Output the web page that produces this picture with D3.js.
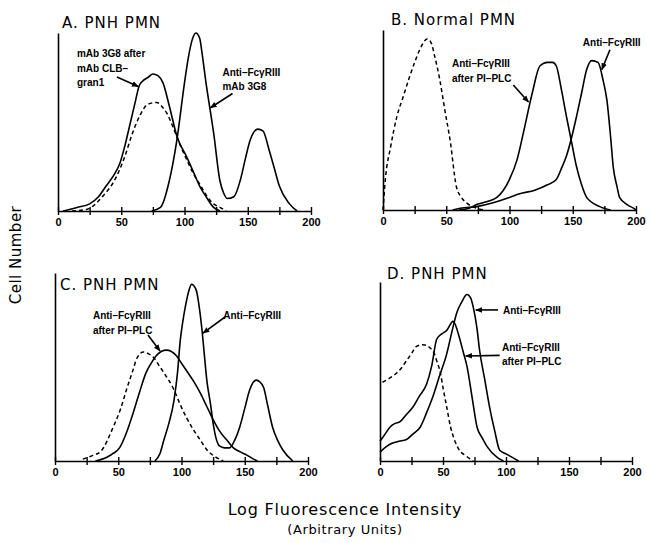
<!DOCTYPE html>
<html>
<head>
<meta charset="utf-8">
<script src="https://cdn.jsdelivr.net/npm/d3@7"></script>
<style>
  body { margin: 0; background: #fff; }
  svg { display: block; }
  .title { font-family: "DejaVu Sans", sans-serif; font-size: 15px; letter-spacing: 1px; }
  .tick text { font-family: "Liberation Sans", Arial, sans-serif; font-size: 11px; font-weight: bold; }
  .note { font-family: "Liberation Sans", Arial, sans-serif; font-size: 10px; font-weight: bold; }
  .axlabel { font-family: "DejaVu Sans", sans-serif; }
</style>
</head>
<body>
<svg class="vis" width="647" height="543"></svg>
<script>
// tick values on every x axis
const xTicks = [0, 25, 50, 75, 100, 125, 150, 175, 200];
const xLabels = [0, 50, 100, 150, 200];

// panel titles
const titles = ["A. PNH PMN", "B. Normal PMN", "C. PNH PMN", "D. PNH PMN"];

// histograms, [fluorescence, cell count]
const aControl = [[11,0],[23,1],[35,8],[46,19],[53,31],[59,44],[65,54],[71,60],[78,61],[83,58],[86,55],[91,47],[96,38],[101,30],[107,21],[113,14],[118,8],[123,4],[128,2],[133,0]];
const aBlocked = [[4,0],[15,2],[25,4],[32,8],[38,14],[44,20],[49,27],[53,37],[57,49],[61,61],[64,70],[67,73],[71,75],[75,77],[79,76],[83,72],[88,59],[94,42],[102,30],[107,22],[112,14],[118,7],[123,2],[128,0]];
const a3G8 = [[74,0],[81,2],[88,17],[94,40],[100,72],[103,86],[106,96],[109,100],[112,97],[114,88],[117,72],[120,58],[123,44],[128,17],[131,10],[134,7],[139,8],[144,17],[148,29],[152,40],[158,46],[162,45],[167,34],[171,24],[175,14],[183,4],[189,0]];

const bControl = [[0,0],[2,18],[6,35],[11,52],[16,63],[21,74],[25,82],[29,89],[35,95],[38,93],[41,85],[45,72],[49,55],[53,39],[58,13],[62,7],[66,4],[74,1],[80,0]];
const bPlc = [[60,0],[68,1],[74,3],[79,4],[90,7],[100,17],[106,28],[111,43],[118,65],[124,80],[130,82],[134,82],[137,80],[141,67],[145,52],[149,38],[153,24],[157,14],[161,7],[171,2],[180,0]];
const bFc = [[55,0],[61,1],[75,2],[87,4],[100,7],[108,9],[120,11],[130,14],[137,17],[141,23],[145,30],[149,40],[153,52],[157,65],[161,78],[165,83],[170,82],[174,72],[177,61],[180,40],[182,24],[185,13],[187,7],[193,3],[198,1],[200,0]];

const cControl = [[22,1],[30,3],[36,5],[46,18],[52,28],[57,39],[61,47],[65,55],[70,58],[74,57],[78,55],[82,51],[86,47],[94,38],[99,30],[104,23],[110,16],[115,11],[120,6],[125,3],[133,0]];
const cPlc = [[32,0],[41,2],[46,4],[51,7],[57,16],[62,26],[67,37],[72,47],[76,52],[80,56],[88,59],[96,56],[100,52],[104,48],[110,42],[115,36],[120,29],[125,22],[130,16],[136,11],[141,7],[146,5],[152,3],[157,1],[160,0]];
const cFc = [[79,0],[83,4],[86,11],[90,20],[94,32],[97,48],[99,64],[101,74],[103,82],[106,91],[108,94],[110,93],[112,90],[114,82],[116,71],[118,57],[120,43],[123,30],[125,20],[130,8],[134,7],[138,7],[142,11],[146,18],[150,28],[154,38],[159,43],[162,42],[165,39],[168,30],[172,18],[176,11],[180,6],[188,0]];

const dControl = [[2,44],[7,46],[13,49],[17,52],[21,56],[25,60],[29,64],[34,65],[40,63],[43,60],[45,56],[48,49],[50,41],[53,30],[56,19],[59,12],[63,6],[68,3],[74,0]];
const dPlc = [[0,11],[4,15],[8,19],[12,21],[16,22],[21,26],[26,30],[31,36],[37,43],[41,53],[45,68],[49,71],[53,73],[58,78],[63,69],[66,61],[69,53],[73,36],[77,19],[81,13],[85,8],[93,2],[98,0]];
const dFc = [[0,5],[5,8],[10,10],[15,11],[21,12],[26,15],[32,19],[37,27],[42,36],[47,47],[53,60],[57,72],[61,83],[65,89],[69,93],[72,91],[74,86],[77,74],[79,62],[83,46],[87,30],[91,17],[95,6],[100,4],[105,2],[110,0]];

// arrow labels: lines of text, text anchor and arrow ends in data units
const notesA = [
  { lines: ["mAb 3G8 after", "mAb CLB\u2013", "gran1"], at: [15, 86.5], from: [46.6, 75.3], to: [63.5, 70] },
  { lines: ["Anti\u2013Fc\u03b3RIII", "mAb 3G8"], at: [130, 76], from: [138, 66], to: [120.5, 58] }
];
const notesB = [
  { lines: ["Anti\u2013Fc\u03b3RIII", "after PI\u2013PLC"], at: [54.5, 79.4], from: [103, 69.4], to: [115, 60] },
  { lines: ["Anti\u2013Fc\u03b3RIII"], at: [158, 91], from: [179.4, 89], to: [173, 78] }
];
const notesC = [
  { lines: ["Anti\u2013Fc\u03b3RIII", "after PI\u2013PLC"], at: [30, 75.5], from: [73.5, 67], to: [83, 58.5] },
  { lines: ["Anti\u2013Fc\u03b3RIII"], at: [133, 75.5], from: [134.4, 76.6], to: [117, 68] }
];
const notesD = [
  { lines: ["Anti\u2013Fc\u03b3RIII"], at: [97.6, 82], from: [93.7, 84.4], to: [76, 84.4] },
  { lines: ["Anti\u2013Fc\u03b3RIII", "after PI\u2013PLC"], at: [96.8, 61.5], from: [95, 59], to: [68, 58.7] }
];

const panels = [
  { left: 58,  right: 311, bottom: 211, top: 33,  titleX: 62,  titleY: 28,  control: aControl, solids: [aBlocked, a3G8], notes: notesA },
  { left: 383, right: 636, bottom: 210, top: 30,  titleX: 391, titleY: 25,  control: bControl, solids: [bPlc, bFc],       notes: notesB },
  { left: 55,  right: 308, bottom: 461, top: 273, titleX: 60,  titleY: 290, control: cControl, solids: [cPlc, cFc],       notes: notesC },
  { left: 380, right: 632, bottom: 461, top: 282, titleX: 387, titleY: 279, control: dControl, solids: [dPlc, dFc],       notes: notesD }
];

const svg = d3.select("svg.vis");

svg.append("defs").append("marker")
    .attr("id", "head")
    .attr("viewBox", "0 0 10 10")
    .attr("refX", 9).attr("refY", 5)
    .attr("markerWidth", 7).attr("markerHeight", 7)
    .attr("markerUnits", "userSpaceOnUse")
    .attr("orient", "auto")
  .append("path")
    .attr("d", "M0,1 L10,5 L0,9 Z")
    .attr("fill", "#000");

panels.forEach((p, i) => {

    const x = d3.scaleLinear().domain([0, 200]).range([p.left, p.right]);
    const y = d3.scaleLinear().domain([0, 100]).range([p.bottom, p.top]);

    const g = svg.append("g");

    const line = d3.line()
        .x(d => x(d[0]))
        .y(d => y(d[1]))
        .curve(d3.curveMonotoneX);

    // x axis, ticks crossing the line
    const xAxis = g.append("g")
        .attr("transform", `translate(0,${p.bottom})`)
        .call(d3.axisBottom(x)
            .tickValues(xTicks)
            .tickSize(4)
            .tickSizeOuter(0)
            .tickPadding(3)
            .tickFormat(d => xLabels.includes(d) ? d : ""));
    xAxis.select(".domain").attr("stroke-width", 1.6);
    xAxis.selectAll(".tick line").attr("y1", -4).attr("y2", 4).attr("stroke-width", 1.4);
    xAxis.selectAll(".tick text").attr("fill", "#000");

    // y axis, no ticks
    const yAxis = g.append("g")
        .attr("transform", `translate(${p.left},0)`)
        .call(d3.axisLeft(y).tickValues([]).tickSizeOuter(0));
    yAxis.select(".domain").attr("stroke-width", 1.6);

    g.append("text")
        .attr("class", "title")
        .attr("x", p.titleX)
        .attr("y", p.titleY)
        .text(titles[i]);

    g.append("path")
        .datum(p.control)
        .attr("d", line)
        .attr("fill", "none")
        .attr("stroke", "#000")
        .attr("stroke-width", 1.5)
        .attr("stroke-dasharray", "4,3");

    g.selectAll("path.solid")
        .data(p.solids)
        .join("path")
        .attr("class", "solid")
        .attr("d", line)
        .attr("fill", "none")
        .attr("stroke", "#000")
        .attr("stroke-width", 1.6);

    p.notes.forEach(n => {
        const t = g.append("text")
            .attr("class", "note")
            .attr("x", x(n.at[0]))
            .attr("y", y(n.at[1]));
        t.selectAll("tspan")
            .data(n.lines)
            .join("tspan")
            .attr("x", x(n.at[0]))
            .attr("dy", (d, k) => k === 0 ? 0 : 14.5)
            .text(d => d);

        g.append("line")
            .attr("x1", x(n.from[0])).attr("y1", y(n.from[1]))
            .attr("x2", x(n.to[0])).attr("y2", y(n.to[1]))
            .attr("stroke", "#000")
            .attr("stroke-width", 1.6)
            .attr("marker-end", "url(#head)");
    });

});

// shared axis titles
svg.append("text")
    .attr("class", "axlabel")
    .attr("transform", "translate(21,255) rotate(-90)")
    .attr("text-anchor", "middle")
    .attr("font-size", 15)
    .attr("letter-spacing", 0.5)
    .text("Cell Number");

svg.append("text")
    .attr("class", "axlabel")
    .attr("x", 345).attr("y", 515)
    .attr("text-anchor", "middle")
    .attr("font-size", 16)
    .attr("letter-spacing", 0.8)
    .text("Log Fluorescence Intensity");

svg.append("text")
    .attr("class", "axlabel")
    .attr("x", 345).attr("y", 534)
    .attr("text-anchor", "middle")
    .attr("font-size", 13)
    .attr("letter-spacing", 0.6)
    .text("(Arbitrary Units)");
</script>
</body>
</html>
